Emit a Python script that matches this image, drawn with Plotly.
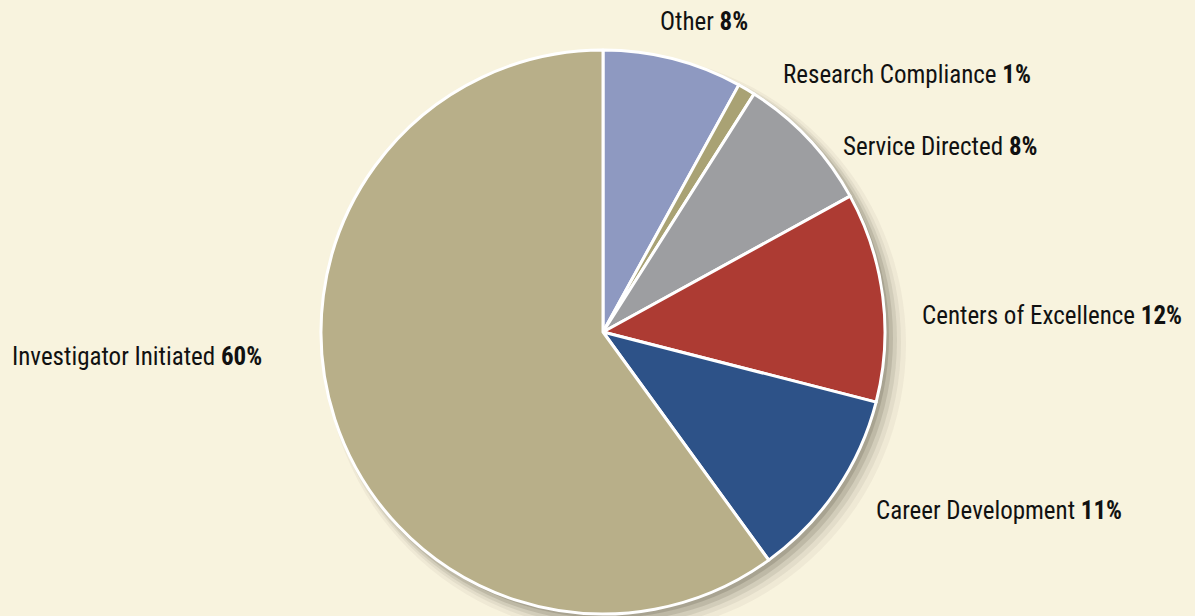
import plotly.graph_objects as go

categories = ["Other", "Research Compliance", "Service Directed",
              "Centers of Excellence", "Career Development", "Investigator Initiated"]
values = [8, 1, 8, 12, 11, 60]
colors = ["#8e99c1", "#a9a274", "#9d9ea1", "#ad3b33", "#2d5288", "#b8af89"]

W, H = 1195, 616
cx, cy, r = 603, 332, 282

fig = go.Figure()

fig.add_trace(go.Pie(
    labels=categories, values=values, sort=False, direction="clockwise", rotation=0,
    domain=dict(x=[(cx - r) / W, (cx + r) / W], y=[(H - cy - r) / H, (H - cy + r) / H]),
    marker=dict(colors=colors, line=dict(color="white", width=3)),
    textinfo="none", showlegend=False,
))

# soft drop shadow (layered circles below the pie)
for off, extra, a in [(12, 9, 0.05), (10, 6, 0.07), (8, 4, 0.10), (6, 2, 0.14), (4, 0, 0.18)]:
    x0, x1 = cx + off - r - extra, cx + off + r + extra
    y0, y1 = cy + off - r - extra, cy + off + r + extra
    fig.add_shape(type="circle", xref="paper", yref="paper", layer="below",
                  x0=x0 / W, x1=x1 / W, y0=(H - y1) / H, y1=(H - y0) / H,
                  fillcolor=f"rgba(70,65,50,{a})", line=dict(width=0))

# label positions (left edge px, center y px)
label_pos = {
    "Other": (658, 22),
    "Research Compliance": (781, 75),
    "Service Directed": (841, 146),
    "Centers of Excellence": (920, 315),
    "Career Development": (874, 510),
    "Investigator Initiated": (10, 356),
}
for cat, v in zip(categories, values):
    lx, ly = label_pos[cat]
    fig.add_annotation(x=lx / W, y=(H - ly) / H, xref="paper", yref="paper",
                       xanchor="left", yanchor="middle", showarrow=False,
                       text=f"{cat} <b>{v}%</b>",
                       font=dict(family="Roboto Condensed, sans-serif", size=25, color="#111111"))

fig.update_layout(width=W, height=H, margin=dict(l=0, r=0, t=0, b=0),
                  paper_bgcolor="#f8f3de", plot_bgcolor="#f8f3de", showlegend=False)
fig.write_html("out.html", config={"displayModeBar": False},
               post_script="document.body.style.margin='0';")
